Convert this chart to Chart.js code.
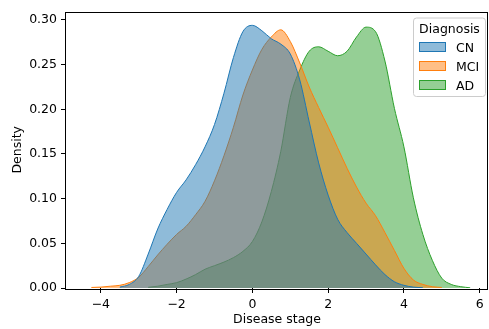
<!DOCTYPE html>
<html><head><meta charset="utf-8">
<script src="https://cdn.jsdelivr.net/npm/chart.js@4"></script>
<style>html,body{margin:0;padding:0;background:#fff}canvas{display:block}</style>
</head><body>
<canvas id="c" width="489" height="329"></canvas>
<script>
// ---- data ----
const xValues = [-4.5,-4.25,-4.0,-3.75,-3.5,-3.25,-3.0,-2.75,-2.5,-2.25,-2.0,-1.75,-1.5,-1.25,-1.0,-0.75,-0.5,-0.25,0,0.25,0.5,0.75,1.0,1.25,1.5,1.75,2.0,2.25,2.5,2.75,3.0,3.25,3.5,3.75,4.0,4.25,4.5,4.75,5.0,5.25,5.5,5.75];
const cnDensity = [null,null,null,null,0.001,0.004,0.013,0.038,0.066,0.088,0.107,0.121,0.138,0.158,0.183,0.218,0.258,0.287,0.294,0.288,0.279,0.273,0.262,0.233,0.186,0.140,0.104,0.077,0.062,0.050,0.038,0.026,0.015,0.007,0.003,0.001,0.0003,null,null,null,null,null];
const mciDensity = [null,0.0006,0.001,0.002,0.003,0.006,0.012,0.024,0.037,0.049,0.060,0.069,0.082,0.097,0.120,0.148,0.180,0.216,0.244,0.267,0.281,0.289,0.276,0.252,0.225,0.202,0.180,0.157,0.134,0.113,0.095,0.081,0.062,0.042,0.022,0.009,0.004,0.0015,0.0006,null,null,null];
const adDensity = [null,null,null,null,null,null,null,0.0008,0.002,0.004,0.006,0.010,0.015,0.021,0.025,0.029,0.034,0.041,0.052,0.074,0.108,0.153,0.213,0.244,0.265,0.270,0.265,0.260,0.265,0.281,0.292,0.287,0.254,0.201,0.158,0.101,0.060,0.031,0.011,0.004,0.0015,0.0002];
const seriesNames = ['CN','MCI','AD'];
const xTicks = [-4,-2,0,2,4,6];
const yTicks = [0,0.05,0.10,0.15,0.20,0.25,0.30];
const legendTitle = 'Diagnosis';
const xLabel = 'Disease stage';
const yLabel = 'Density';

// ---- styling ----
const colors = [[31,119,180],[255,127,14],[44,160,44]];
const FONT = 'DejaVu Sans';
const FS = 12.5;
Chart.defaults.font.family = FONT;
Chart.defaults.font.size = FS;
Chart.defaults.color = '#000';

const series = [cnDensity, mciDensity, adDensity];
const datasets = series.map((arr, i) => ({
  label: seriesNames[i],
  data: xValues.map((x, j) => ({x: x, y: arr[j]})),
  borderColor: `rgb(${colors[i].join(',')})`,
  backgroundColor: `rgba(${colors[i].join(',')},0.5)`,
  borderWidth: 1,
  pointRadius: 0,
  fill: 'origin',
  cubicInterpolationMode: 'monotone',
  spanGaps: false
}));

const framePlugin = {
  id: 'frame',
  afterDatasetsDraw(chart) {
    const {ctx, chartArea: a} = chart;
    ctx.save();
    ctx.strokeStyle = '#000';
    ctx.lineWidth = 1;
    ctx.strokeRect(Math.round(a.left) - 0.5, Math.round(a.top) + 0.5, Math.round(a.right - a.left), Math.round(a.bottom - a.top));
    ctx.restore();
  }
};

const legendPlugin = {
  id: 'mplLegend',
  afterDraw(chart) {
    const {ctx, chartArea: a} = chart;
    const right = a.right - 2, top = a.top + 6.5, w = 73, h = 78.5;
    const left = right - w;
    ctx.save();
    ctx.beginPath();
    ctx.roundRect(left + 0.5, top, w - 1, h, 3);
    ctx.fillStyle = 'rgba(255,255,255,0.8)';
    ctx.fill();
    ctx.strokeStyle = '#cccccc';
    ctx.lineWidth = 1;
    ctx.stroke();
    ctx.font = `${FS}px "${FONT}"`;
    ctx.fillStyle = '#000';
    ctx.textBaseline = 'alphabetic';
    ctx.textAlign = 'center';
    ctx.fillText(legendTitle, left + w / 2, top + 14.5);
    ctx.textAlign = 'left';
    chart.data.datasets.forEach((ds, i) => {
      const py = top + 24.5 + 19 * i;
      ctx.fillStyle = ds.backgroundColor;
      ctx.fillRect(left + 6.5, py, 26, 9);
      ctx.strokeStyle = ds.borderColor;
      ctx.strokeRect(left + 6.5, py, 26, 9);
      ctx.fillStyle = '#000';
      ctx.fillText(ds.label, left + 43, py + 9);
    });
    ctx.restore();
  }
};

new Chart(document.getElementById('c'), {
  type: 'line',
  data: {datasets},
  plugins: [framePlugin, legendPlugin],
  options: {
    responsive: false,
    animation: false,
    events: [],
    layout: {padding: {left: 0, right: 1, top: 11, bottom: 0}},
    plugins: {legend: {display: false}, tooltip: {enabled: false}},
    scales: {
      x: {
        type: 'linear',
        min: -4.92, max: 6.22,
        afterBuildTicks: s => { s.ticks = xTicks.map(v => ({value: v})); },
        afterFit: s => { s.height = 41; },
        ticks: {
          padding: 4,
          maxRotation: 0,
          callback: v => (v < 0 ? '\u2212' + Math.abs(v) : String(v))
        },
        grid: {drawOnChartArea: false, drawTicks: true, tickLength: 5, color: '#000', lineWidth: 1},
        border: {display: false},
        title: {display: true, text: xLabel, padding: {top: 0, bottom: 1.5}}
      },
      y: {
        type: 'linear',
        min: 0, max: 0.3095,
        afterBuildTicks: s => { s.ticks = yTicks.map(v => ({value: v})); },
        afterFit: s => { s.width = 66; },
        ticks: {padding: 4, callback: v => Number(v).toFixed(2)},
        grid: {drawOnChartArea: false, drawTicks: true, tickLength: 5, color: '#000', lineWidth: 1},
        border: {display: false},
        title: {display: true, text: yLabel, padding: {top: 10.5, bottom: 0}}
      }
    }
  }
});
</script>
</body></html>
